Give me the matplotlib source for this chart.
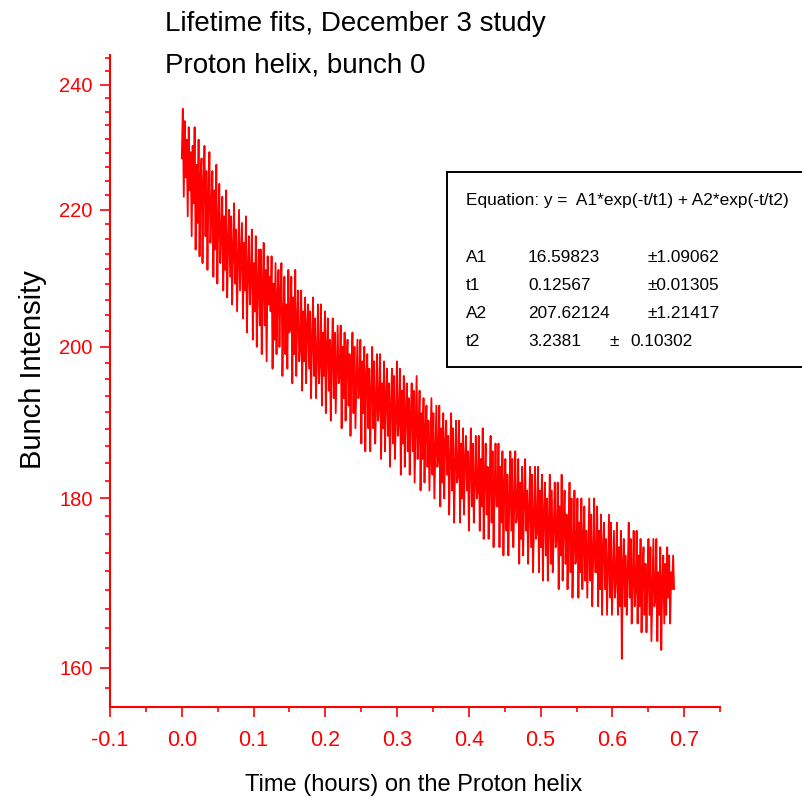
"""Bunch intensity lifetime fit plot."""

import matplotlib

matplotlib.use("Agg")

import matplotlib.pyplot as plt
import numpy as np
from matplotlib.patches import Rectangle
from matplotlib.ticker import FixedLocator, NullFormatter, FixedFormatter

# Bunch intensity, 500 samples from t = 0 to t = 0.686 h
intensity = [
    228, 236, 222, 234, 225, 231, 219, 233, 223, 229,
    216, 230, 221, 233, 214, 227, 218, 231, 213, 225,
    228, 212, 224, 230, 216, 226, 211, 222, 229, 215,
    220, 226, 210, 223, 214, 227, 209, 218, 224, 212,
    216, 222, 208, 219, 211, 223, 207, 215, 220, 210,
    219, 206, 214, 221, 209, 217, 205, 212, 220, 208,
    213, 218, 204, 215, 208, 219, 202, 211, 216, 206,
    210, 217, 201, 212, 205, 216, 200, 209, 214, 203,
    214, 199, 208, 215, 203, 211, 198, 213, 206, 210,
    205, 213, 197, 209, 201, 212, 199, 207, 211, 200,
    208, 212, 196, 204, 210, 199, 206, 197, 211, 202,
    203, 210, 195, 207, 199, 211, 196, 204, 208, 198,
    200, 208, 194, 205, 198, 207, 195, 203, 206, 197,
    205, 193, 201, 207, 196, 204, 193, 199, 206, 195,
    198, 206, 192, 202, 196, 205, 191, 200, 204, 194,
    201, 190, 199, 204, 193, 202, 191, 197, 203, 195,
    196, 203, 189, 200, 193, 202, 190, 198, 201, 192,
    199, 188, 197, 202, 191, 200, 189, 195, 201, 193,
    194, 201, 187, 198, 191, 200, 186, 196, 199, 189,
    197, 186, 194, 200, 189, 198, 187, 192, 199, 190,
    192, 199, 185, 195, 189, 198, 186, 193, 197, 188,
    195, 184, 192, 197, 187, 196, 185, 190, 198, 188,
    190, 197, 183, 194, 187, 196, 184, 191, 195, 186,
    193, 183, 190, 195, 186, 194, 182, 189, 196, 185,
    188, 194, 181, 191, 185, 193, 182, 189, 192, 184,
    190, 181, 187, 193, 183, 191, 180, 186, 192, 184,
    185, 192, 179, 189, 182, 191, 180, 187, 190, 183,
    188, 178, 185, 191, 181, 189, 177, 184, 190, 182,
    183, 190, 177, 187, 180, 189, 178, 185, 188, 181,
    186, 176, 184, 189, 179, 187, 177, 182, 188, 180,
    181, 188, 176, 185, 179, 189, 175, 183, 187, 178,
    184, 175, 182, 188, 177, 186, 174, 181, 187, 179,
    179, 187, 174, 184, 177, 186, 173, 182, 185, 176,
    183, 173, 180, 186, 176, 185, 174, 179, 186, 177,
    178, 185, 172, 182, 175, 184, 173, 180, 185, 176,
    181, 172, 179, 184, 174, 183, 171, 177, 184, 175,
    176, 184, 171, 181, 174, 183, 170, 178, 182, 173,
    180, 170, 177, 183, 172, 181, 171, 176, 182, 174,
    175, 182, 169, 179, 173, 183, 170, 177, 181, 172,
    178, 169, 176, 182, 171, 180, 168, 174, 181, 172,
    173, 180, 168, 177, 171, 180, 169, 175, 179, 170,
    176, 168, 174, 180, 170, 178, 167, 173, 180, 171,
    171, 179, 167, 176, 169, 178, 166, 174, 177, 169,
    175, 166, 172, 178, 168, 177, 166, 171, 176, 168,
    170, 177, 166, 174, 167, 176, 161, 172, 175, 167,
    173, 166, 171, 177, 168, 175, 165, 170, 176, 167,
    169, 176, 165, 173, 167, 175, 164, 171, 174, 166,
    172, 164, 170, 175, 166, 174, 163, 169, 175, 167,
    168, 175, 163, 171, 166, 174, 162, 170, 173, 165,
    172, 166, 174, 168, 173, 165, 171, 169, 173, 169,
]
time_start, time_end = 0.0, 0.686

x_ticks = [-0.1, 0.0, 0.1, 0.2, 0.3, 0.4, 0.5, 0.6, 0.7]
y_ticks = [160, 180, 200, 220, 240]

title_lines = ["Lifetime fits, December 3 study", "Proton helix, bunch 0"]
equation = "Equation: y =  A1*exp(-t/t1) + A2*exp(-t/t2)"
param_names = ["A1", "t1", "A2"]
param_values = ["16.59823", "0.12567", "207.62124"]
param_errors = ["\u00b11.09062", "\u00b10.01305", "\u00b11.21417"]
last_row = ("t2", "3.2381", "\u00b1", "0.10302")

FONT = ["Liberation Sans", "DejaVu Sans"]


def plot_lifetime(path="out.png"):
    fig = plt.figure(figsize=(8.02, 8.05), dpi=100)
    axis = fig.add_axes([0.1372, 0.1217, 0.7606, 0.81])

    times = np.linspace(time_start, time_end, len(intensity))
    axis.plot(times, intensity, color="#ff0000", linewidth=1.3)

    axis.set_yscale("log")
    axis.set_xlim(-0.1, 0.75)
    axis.set_ylim(155.7, 245.0)

    axis.yaxis.set_major_locator(FixedLocator(y_ticks))
    axis.yaxis.set_major_formatter(FixedFormatter([str(v) for v in y_ticks]))
    minor_y = [160 + k * 20 / 9 for k in range(-2, 40)]
    minor_y = [v for v in minor_y if 155.7 <= v <= 245.0 and (v - 160) % 20 > 0.01]
    axis.yaxis.set_minor_locator(FixedLocator(minor_y))
    axis.yaxis.set_minor_formatter(NullFormatter())

    axis.xaxis.set_major_locator(FixedLocator(x_ticks))
    axis.xaxis.set_major_formatter(FixedFormatter([f"{v:.1f}" for v in x_ticks]))
    axis.xaxis.set_minor_locator(FixedLocator([v + 0.05 for v in x_ticks]))

    for side in ("top", "right"):
        axis.spines[side].set_visible(False)
    for side in ("left", "bottom"):
        axis.spines[side].set_color("#ff0000")
        axis.spines[side].set_linewidth(1.5)

    axis.tick_params(which="both", direction="out", color="#ff0000", width=1.2,
                     labelcolor="#ff0000")
    axis.tick_params(which="major", length=7.5)
    axis.tick_params(which="minor", length=3.8)
    axis.tick_params(axis="y", which="major", pad=5, labelsize=14.5)
    axis.tick_params(axis="x", which="major", pad=9, labelsize=15.5)
    for label in axis.get_xticklabels() + axis.get_yticklabels():
        label.set_family(FONT)

    fig.text(165 / 802, 1 - 24 / 805, title_lines[0], fontsize=20, family=FONT,
             ha="left", va="center")
    fig.text(165 / 802, 1 - 66 / 805, title_lines[1], fontsize=20, family=FONT,
             ha="left", va="center")
    fig.text(414 / 802, 1 - 785 / 805, "Time (hours) on the Proton helix", fontsize=17,
             family=FONT, ha="center", va="center")
    fig.text(33 / 802, 1 - 370 / 805, "Bunch Intensity", fontsize=21, family=FONT,
             rotation=90, ha="center", va="center")

    box = Rectangle((447 / 802, 1 - 367 / 805), 0.6, 195 / 805, transform=fig.transFigure,
                    facecolor="white", edgecolor="black", linewidth=1.4, clip_on=True)
    fig.patches.append(box)

    text_kw = dict(fontsize=12.4, family=FONT, ha="left", va="center")
    fig.text(466 / 802, 1 - 200 / 805, equation, **text_kw)
    row_y = [257, 285, 313]
    for name, value, error, y in zip(param_names, param_values, param_errors, row_y):
        fig.text(466 / 802, 1 - y / 805, name, **text_kw)
        fig.text(528 / 802, 1 - y / 805, value, **text_kw)
        fig.text(648 / 802, 1 - y / 805, error, **text_kw)
    fig.text(466 / 802, 1 - 342 / 805, last_row[0], **text_kw)
    fig.text(528 / 802, 1 - 342 / 805, last_row[1], **text_kw)
    fig.text(609 / 802, 1 - 342 / 805, last_row[2], **text_kw)
    fig.text(630 / 802, 1 - 342 / 805, last_row[3], **text_kw)

    fig.savefig(path, dpi=100)
    plt.close(fig)


plot_lifetime()
